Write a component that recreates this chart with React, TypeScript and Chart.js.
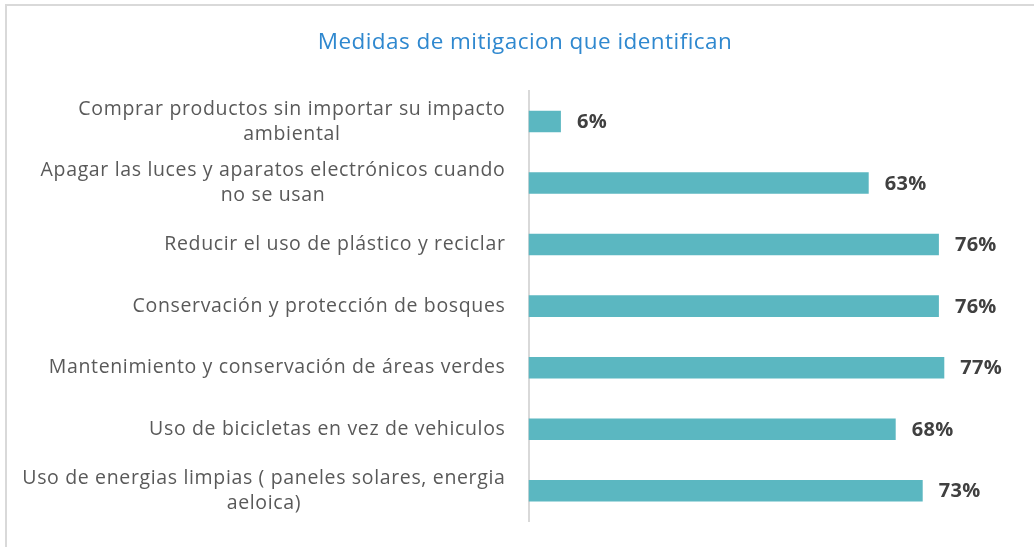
import React, { useEffect, useRef } from "react";
import { Chart, registerables } from "chart.js";

Chart.register(...registerables);

const TITLE = "Medidas de mitigacion que identifican";

const categories: string[][] = [
  ["Comprar productos sin importar su impacto", "ambiental"],
  ["Apagar las luces y aparatos electrónicos cuando", "no se usan"],
  ["Reducir el uso de plástico y reciclar"],
  ["Conservación y protección de bosques"],
  ["Mantenimiento y conservación de áreas verdes"],
  ["Uso de bicicletas en vez de vehiculos"],
  ["Uso de energias limpias ( paneles solares, energia", "aeloica)"],
];

const values: number[] = [0.06, 0.63, 0.76, 0.76, 0.77, 0.68, 0.73];

const AXIS_MAX = 0.9;

const FONT = "'Open Sans', sans-serif";

const labelsPlugin = {
  id: "customLabels",
  afterDatasetsDraw(chart: any) {
    const { ctx, chartArea } = chart;
    const yScale = chart.scales.y;
    const xScale = chart.scales.x;
    ctx.save();
    // title
    ctx.font = `22.5px ${FONT}`;
    ctx.letterSpacing = "0.45px";
    ctx.fillStyle = "#2F88CF";
    ctx.textAlign = "center";
    ctx.textBaseline = "middle";
    ctx.fillText(TITLE, 525, 43);
    // category labels
    ctx.font = `19.5px ${FONT}`;
    ctx.letterSpacing = "0.65px";
    ctx.fillStyle = "#595959";
    ctx.textAlign = "center";
    ctx.textBaseline = "middle";
    const rightEdge = chartArea.left - 23;
    const lineH = 25;
    categories.forEach((lines, i) => {
      const y = yScale.getPixelForValue(i);
      const maxW = Math.max(...lines.map((l) => ctx.measureText(l).width));
      const cx = rightEdge - maxW / 2;
      const startY = y - ((lines.length - 1) * lineH) / 2;
      lines.forEach((l, j) => ctx.fillText(l, cx, startY + j * lineH));
    });
    // data labels
    ctx.font = `bold 20px ${FONT}`;
    ctx.letterSpacing = "0.3px";
    ctx.fillStyle = "#404040";
    ctx.textAlign = "left";
    values.forEach((v, i) => {
      const x = xScale.getPixelForValue(v);
      const y = yScale.getPixelForValue(i);
      ctx.fillText(`${Math.round(v * 100)}%`, x + 16, y + 1);
    });
    ctx.restore();
  },
};

export default function App() {
  const ref = useRef<HTMLCanvasElement | null>(null);
  useEffect(() => {
    if (!ref.current) return;
    const chart = new Chart(ref.current, {
      type: "bar",
      data: {
        labels: categories.map((c) => c.join(" ")),
        datasets: [
          {
            data: values,
            backgroundColor: "#5BB7C1",
            borderWidth: 0,
            barPercentage: 0.35,
            categoryPercentage: 1,
          },
        ],
      },
      options: {
        indexAxis: "y",
        animation: false,
        responsive: false,
        maintainAspectRatio: false,
        layout: { padding: { left: 35.5, right: 19.5, top: 90.75, bottom: 25.5 } },
        plugins: {
          legend: { display: false },
          tooltip: { enabled: false },
          title: { display: false },
        },
        scales: {
          x: {
            min: 0,
            max: AXIS_MAX,
            display: false,
          },
          y: {
            grid: { display: false, drawTicks: false },
            ticks: { display: false },
            border: { display: true, color: "#d9d9d9", width: 2 },
            afterFit: (scale: any) => {
              scale.width = 493;
            },
          },
        },
      },
      plugins: [labelsPlugin],
    });
    return () => chart.destroy();
  }, []);

  return (
    <div style={{ position: "fixed", left: 0, top: 0, width: 1034, height: 547, background: "#fff", overflow: "hidden" }}>
      <div
        style={{
          position: "absolute",
          left: 5,
          top: 4,
          width: 1060,
          height: 600,
          borderLeft: "2px solid #d9d9d9",
          borderTop: "2px solid #d9d9d9",
        }}
      />
      <canvas ref={ref} width={1034} height={547} style={{ position: "absolute", left: 0, top: 0 }} />
    </div>
  );
}
